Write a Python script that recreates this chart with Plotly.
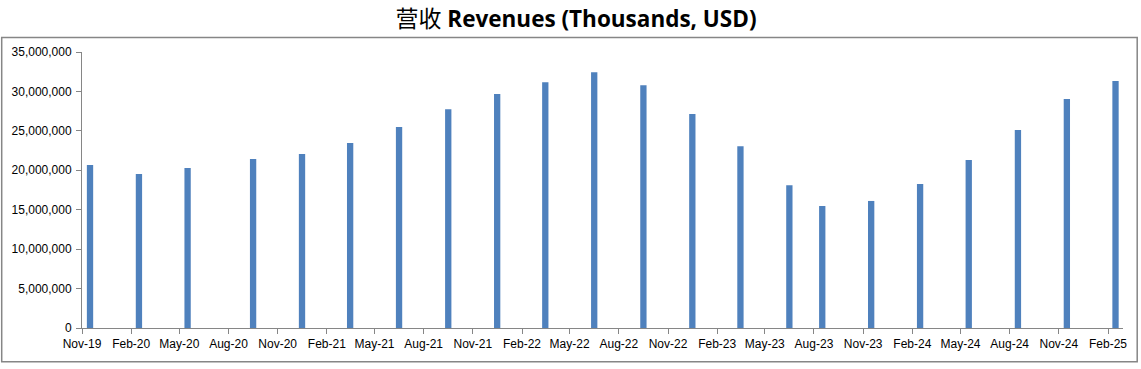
import plotly.graph_objects as go

# Period (month) of each reported quarter
periods = ["2019-11", "2020-02", "2020-05", "2020-09", "2020-12", "2021-03",
           "2021-06", "2021-09", "2021-12", "2022-03", "2022-06", "2022-09",
           "2022-12", "2023-03", "2023-06", "2023-08", "2023-11", "2024-02",
           "2024-05", "2024-08", "2024-11", "2025-02"]
# Revenues, thousands USD
revenues = [20670000, 19530000, 20290000, 21430000, 22070000, 23460000,
            25490000, 27730000, 29670000, 31160000, 32420000, 30780000,
            27140000, 23040000, 18100000, 15470000, 16110000, 18260000,
            21300000, 25110000, 29040000, 31320000]

title_cn = "营收"
title_en = "Revenues (Thousands, USD)"

bar_color = "#4F81BD"
axis_color = "#868686"
DAY = 86400000

fig = go.Figure(go.Bar(
    x=periods, y=revenues,
    xperiod="M1", xperiodalignment="middle",
    width=[11.8 * DAY] * len(periods),
    marker=dict(color=bar_color, line=dict(width=0)),
))

W, H = 1141, 369
L, R, T, B = 82.3, 1123.3, 51.7, 327.7
pw, ph = R - L, B - T

fig.update_layout(
    width=W, height=H,
    margin=dict(l=L, r=W - R, t=T, b=H - B, pad=0),
    paper_bgcolor="white", plot_bgcolor="white",
    showlegend=False,
    title=dict(
        text=(f"<span style='font-family:Noto Sans CJK SC;font-weight:normal;font-size:23px'>{title_cn}</span>"
              f" <b>{title_en}</b>"),
        x=576 / W, xanchor="center", xref="container",
        y=1 - 19.5 / H, yanchor="middle", yref="container",
        font=dict(family="Open Sans", size=22.5, color="#000000"),
    ),
    font=dict(family="Liberation Sans", size=12, color="#000000"),
    xaxis=dict(
        type="date",
        range=["2019-11-01", "2025-03-01"],
        tick0="2019-11-01", dtick="M3", tickformat="%b-%y",
        ticks="outside", ticklen=5, tickcolor=axis_color, tickwidth=1,
        showline=True, linecolor=axis_color, linewidth=1,
        showgrid=False, zeroline=False,
        tickfont=dict(family="Liberation Sans", size=12, color="#000000"),
    ),
    yaxis=dict(
        range=[0, 35000000], dtick=5000000, tickformat=",d",
        ticks="outside", ticklen=5, tickcolor=axis_color, tickwidth=1,
        ticklabelstandoff=2,
        showline=True, linecolor=axis_color, linewidth=1,
        showgrid=False, zeroline=False,
        tickfont=dict(family="Liberation Sans", size=12, color="#000000"),
    ),
    shapes=[dict(
        type="rect", xref="paper", yref="paper",
        x0=(2 - L) / pw, x1=(1137.5 - L) / pw,
        y0=(B - 361.5) / ph, y1=(B - 37.3) / ph,
        line=dict(color=axis_color, width=1.5), fillcolor="rgba(0,0,0,0)",
        layer="below",
    )],
)

fig.write_html("out.html",
               config={"displayModeBar": False},
               post_script="document.body.style.margin='0';document.body.style.overflow='hidden';")
